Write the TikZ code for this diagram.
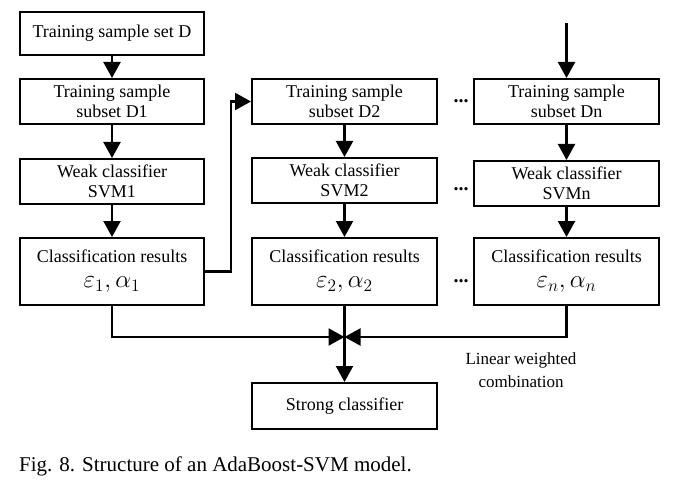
\documentclass[tikz,border=0pt]{standalone}
\usepackage{fontspec}
\setmainfont{Liberation Serif}
\usetikzlibrary{arrows.meta}
\newcommand{\epal}[2]{\raisebox{-1pt}{\scalebox{1.45}{$\varepsilon_{#1},\alpha_{#2}$}}}
\begin{document}
\begin{tikzpicture}[x=1pt,y=-1pt,
  box/.style={draw, line width=2pt, rectangle, align=center, inner sep=0pt,
    font=\fontsize{18}{20}\selectfont},
  arr/.style={line width=2.2pt, -{Triangle[width=17pt,length=16pt]}},
  dotsnode/.style={font=\fontsize{20}{20}\selectfont\bfseries, inner sep=0pt, anchor=base}]
\useasboundingbox (0,0) rectangle (679,481);
% column 1
\node[box, minimum width=184pt, minimum height=43pt] (sd) at (112,33.5) {Training sample set D};
\node[box, minimum width=184pt, minimum height=45pt] (d1) at (112,101.5) {Training sample\\subset D1};
\node[box, minimum width=184pt, minimum height=45pt] (s1) at (112,181.5) {Weak classifier\\SVM1};
\node[box, minimum width=184pt, minimum height=67pt] (r1) at (112,271.5) {Classification results\\[4pt]\epal{1}{1}};
% column 2
\node[box, minimum width=185pt, minimum height=45pt] (d2) at (344.5,101.5) {Training sample\\subset D2};
\node[box, minimum width=185pt, minimum height=45pt] (s2) at (344.5,180.5) {Weak classifier\\SVM2};
\node[box, minimum width=185pt, minimum height=67pt] (r2) at (344.5,271.5) {Classification results\\[4pt]\epal{2}{2}};
% column n
\node[box, minimum width=185pt, minimum height=45pt] (dn) at (566.5,101.5) {Training sample\\subset Dn};
\node[box, minimum width=185pt, minimum height=45pt] (sn) at (566.5,183.5) {Weak classifier\\SVMn};
\node[box, minimum width=185pt, minimum height=67pt] (rn) at (566.5,271.5) {Classification results\\[4pt]\epal{n}{n}};
% strong classifier
\node[box, minimum width=185pt, minimum height=46pt] (sc) at (344.5,406) {Strong classifier};
% dots
\node[dotsnode] (dt1) at (461,103) {...};
\node[dotsnode] (dt2) at (461,190) {...};
\node[dotsnode] (dt3) at (461,282) {...};
% label and caption
\node[align=center, font=\fontsize{17}{23}\selectfont, inner sep=0pt] (lw) at (521,370) {Linear weighted\\combination};
\node[anchor=west, font=\fontsize{21}{24}\selectfont, inner sep=0pt] (cap) at (19,466) {Fig. 8. Structure of an AdaBoost-SVM model.};
% connectors
\coordinate (inn) at (566.5,23);
\coordinate (j) at (344.5,337);
\draw[arr] (sd) -- (d1);
\draw[arr] (d1) -- (s1);
\draw[arr] (s1) -- (r1);
\draw[arr] (d2) -- (s2);
\draw[arr] (s2) -- (r2);
\draw[arr] (inn) -- (dn);
\draw[arr] (dn) -- (sn);
\draw[arr] (sn) -- (rn);
\draw[arr] (r1.east) -- ++(26,0) |- (d2.west);
\draw[arr] (r1.south) |- (j);
\draw[arr] (rn.south) |- (j);
\draw[arr] (r2.south) -- (sc.north);
\end{tikzpicture}
\end{document}
